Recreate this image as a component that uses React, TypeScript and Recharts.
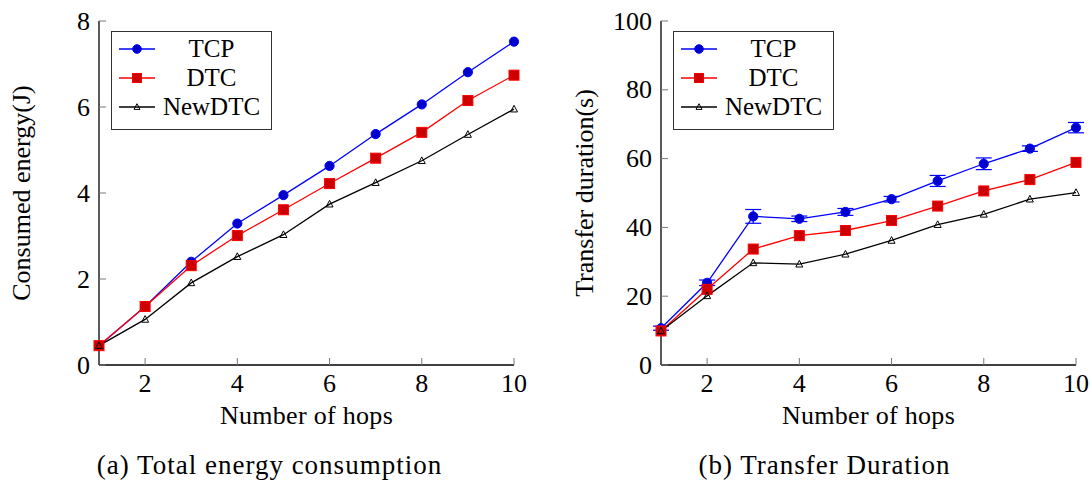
import { CartesianGrid, ErrorBar, Legend, Line, LineChart, XAxis, YAxis } from 'recharts';

const hops = [1, 2, 3, 4, 5, 6, 7, 8, 9, 10];
const hopTicks = [2, 4, 6, 8, 10];

const energyTcp = [0.45, 1.36, 2.4, 3.29, 3.95, 4.63, 5.37, 6.06, 6.81, 7.52];
const energyDtc = [0.45, 1.36, 2.31, 3.01, 3.61, 4.22, 4.81, 5.41, 6.15, 6.74];
const energyNewDtc = [0.45, 1.06, 1.91, 2.52, 3.03, 3.74, 4.24, 4.75, 5.36, 5.95];
const energyTicks = [0, 2, 4, 6, 8];

const durationTcp = [10.7, 23.9, 43.2, 42.5, 44.5, 48.2, 53.5, 58.5, 62.9, 69.0];
const durationTcpErr = [0.6, 0.8, 2.0, 0.8, 1.0, 0.8, 1.6, 1.7, 0.8, 1.5];
const durationDtc = [9.9, 22.0, 33.7, 37.6, 39.1, 42.0, 46.2, 50.6, 53.9, 58.9];
const durationNewDtc = [9.9, 20.1, 29.7, 29.3, 32.2, 36.2, 40.8, 43.8, 48.2, 50.1];
const durationTicks = [0, 20, 40, 60, 80, 100];

const FONT = '"Liberation Serif", "Times New Roman", serif';
const TICK_COLOR = '#777';

const energyData = hops.map((h, i) => ({
  hop: h,
  tcp: energyTcp[i],
  dtc: energyDtc[i],
  newdtc: energyNewDtc[i],
}));

const durationData = hops.map((h, i) => ({
  hop: h,
  tcp: durationTcp[i],
  tcpErr: durationTcpErr[i],
  dtc: durationDtc[i],
  newdtc: durationNewDtc[i],
}));

// marker shapes, pgfplots style
const Circle = ({ cx, cy, r = 4.6 }: any) => (
  <circle cx={cx} cy={cy} r={r} fill="#0000cc" stroke="#0000ff" strokeWidth={1} />
);
const Square = ({ cx, cy, s = 10 }: any) => (
  <rect x={cx - s / 2} y={cy - s / 2} width={s} height={s} fill="#cc0000" stroke="#ff0000" strokeWidth={1} />
);
const Triangle = ({ cx, cy, s = 7 }: any) => (
  <polygon
    points={`${cx},${cy - s * 0.55} ${cx - s / 2},${cy + s * 0.4} ${cx + s / 2},${cy + s * 0.4}`}
    fill="none"
    stroke="#000"
    strokeWidth={1}
  />
);

const legendItems = [
  { name: 'TCP', color: '#0000ff', Mark: Circle },
  { name: 'DTC', color: '#ff0000', Mark: Square },
  { name: 'NewDTC', color: '#000', Mark: Triangle },
];

const LegendBox = () => (
  <div
    style={{
      border: '1.3px solid #333',
      background: '#fff',
      width: 159,
      height: 95,
      boxSizing: 'content-box',
      paddingTop: 2,
      fontFamily: FONT,
    }}
  >
    {legendItems.map(({ name, color, Mark }) => (
      <div key={name} style={{ display: 'flex', alignItems: 'center', height: 29 }}>
        <svg width={46} height={20} style={{ flex: 'none' }}>
          <line x1={7} y1={10} x2={43} y2={10} stroke={color} strokeWidth={1.3} />
          {name === 'TCP' && <Mark cx={25} cy={10} r={4.3} />}
          {name === 'DTC' && <Mark cx={25} cy={10} s={9} />}
          {name === 'NewDTC' && <Mark cx={25} cy={10} s={6} />}
        </svg>
        <div style={{ flex: 1, textAlign: 'center', fontSize: 25, paddingRight: 6 }}>{name}</div>
      </div>
    ))}
  </div>
);

const BottomTick = ({ x, y, payload }: any) => (
  <g>
    <line x1={x} y1={y} x2={x} y2={y - 7} stroke={TICK_COLOR} strokeWidth={1} />
    <text x={x} y={y + 27} textAnchor="middle" fontSize={26} fontFamily={FONT} fill="#000">
      {payload.value}
    </text>
  </g>
);
const TopTick = ({ x, y }: any) => (
  <line x1={x} y1={y} x2={x} y2={y + 7} stroke={TICK_COLOR} strokeWidth={1} />
);
const LeftTick = ({ x, y, payload }: any) => (
  <g>
    <line x1={x} y1={y} x2={x + 7} y2={y} stroke={TICK_COLOR} strokeWidth={1} />
    <text x={x - 9} y={y + 8.6} textAnchor="end" fontSize={26} fontFamily={FONT} fill="#000">
      {payload.value}
    </text>
  </g>
);
const RightTick = ({ x, y }: any) => (
  <line x1={x} y1={y} x2={x - 7} y2={y} stroke={TICK_COLOR} strokeWidth={1} />
);

interface PanelProps {
  data: any[];
  left: number;
  width: number;
  yAxisWidth: number;
  marginRight: number;
  yDomain: [number, number];
  yTicks: number[];
  yLabel: string;
  yLabelX: number;
  caption: string;
  captionShift: number;
  withErr?: boolean;
}

const Panel = (p: PanelProps) => {
  const plotTop = 21;
  const plotH = 344;
  const plotLeft = p.yAxisWidth;
  const plotW = p.width - p.yAxisWidth - p.marginRight;
  const cx = plotLeft + plotW / 2;
  const cy = plotTop + plotH / 2;
  const base = plotTop + plotH;

  return (
    <div style={{ position: 'absolute', left: p.left, top: 0 }}>
      <LineChart width={p.width} height={482} data={p.data} margin={{ top: plotTop, right: p.marginRight, bottom: 0, left: 0 }}>
        <CartesianGrid stroke="none" />
        <XAxis
          dataKey="hop"
          type="number"
          domain={[1, 10]}
          ticks={hopTicks}
          interval={0}
          height={117}
          tickSize={0}
          tickMargin={0}
          tickLine={false}
          axisLine={{ stroke: '#000', strokeWidth: 1.3 }}
          tick={BottomTick}
          label={() => (
            <g fontFamily={FONT} fill="#000">
              <text x={cx} y={base + 59} textAnchor="middle" fontSize={26} letterSpacing={0.3}>
                Number of hops
              </text>
              <text x={cx + p.captionShift} y={base + 109} textAnchor="middle" fontSize={27} letterSpacing={1}>
                {p.caption}
              </text>
            </g>
          )}
        />
        <XAxis
          xAxisId="top"
          dataKey="hop"
          type="number"
          orientation="top"
          domain={[1, 10]}
          ticks={hopTicks}
          interval={0}
          height={0}
          tickSize={0}
          tickMargin={0}
          tickLine={false}
          axisLine={{ stroke: '#000', strokeWidth: 1.3 }}
          tick={TopTick}
        />
        <YAxis
          type="number"
          domain={p.yDomain}
          ticks={p.yTicks}
          interval={0}
          width={p.yAxisWidth}
          tickSize={0}
          tickMargin={0}
          tickLine={false}
          axisLine={{ stroke: '#000', strokeWidth: 1.3 }}
          tick={LeftTick}
          label={() => (
            <text
              x={p.yLabelX}
              y={cy}
              transform={`rotate(-90 ${p.yLabelX} ${cy})`}
              textAnchor="middle"
              fontSize={26}
              fontFamily={FONT}
              fill="#000"
            >
              {p.yLabel}
            </text>
          )}
        />
        <YAxis
          yAxisId="right"
          orientation="right"
          type="number"
          domain={p.yDomain}
          ticks={p.yTicks}
          interval={0}
          width={0}
          tickSize={0}
          tickMargin={0}
          tickLine={false}
          axisLine={{ stroke: '#000', strokeWidth: 1.3 }}
          tick={RightTick}
        />
        <Legend
          layout="horizontal"
          verticalAlign="middle"
          align="center"
          content={() => <LegendBox />}
          wrapperStyle={{ left: plotLeft + 12, top: 31, width: 'auto', height: 'auto' }}
        />
        <Line
          dataKey="tcp"
          type="linear"
          stroke="#0000ff"
          strokeWidth={1.3}
          isAnimationActive={false}
          dot={(d: any) => <Circle key={`c-${d.index}`} cx={d.cx} cy={d.cy} />}
        >
          {p.withErr && (
            <ErrorBar dataKey="tcpErr" direction="y" width={8} stroke="#0000ff" strokeWidth={1.2} isAnimationActive={false} />
          )}
        </Line>
        <Line
          dataKey="dtc"
          type="linear"
          stroke="#ff0000"
          strokeWidth={1.3}
          isAnimationActive={false}
          dot={(d: any) => <Square key={`s-${d.index}`} cx={d.cx} cy={d.cy} />}
        />
        <Line
          dataKey="newdtc"
          type="linear"
          stroke="#000"
          strokeWidth={1.3}
          isAnimationActive={false}
          dot={(d: any) => <Triangle key={`t-${d.index}`} cx={d.cx} cy={d.cy} />}
        />
      </LineChart>
    </div>
  );
};

export default function App() {
  return (
    <div style={{ position: 'absolute', left: 0, top: 0, width: 1091, height: 482, background: '#fff', fontFamily: FONT }}>
      <Panel
        data={energyData}
        left={0}
        width={530}
        yAxisWidth={99}
        marginRight={16}
        yDomain={[0, 8]}
        yTicks={energyTicks}
        yLabel="Consumed energy(J)"
        yLabelX={30}
        caption="(a) Total energy consumption"
        captionShift={-37}
      />
      <Panel
        data={durationData}
        left={540}
        width={550}
        yAxisWidth={121}
        marginRight={14}
        yDomain={[0, 100]}
        yTicks={durationTicks}
        yLabel="Transfer duration(s)"
        yLabelX={53}
        caption="(b) Transfer Duration"
        captionShift={-44}
        withErr
      />
    </div>
  );
}
